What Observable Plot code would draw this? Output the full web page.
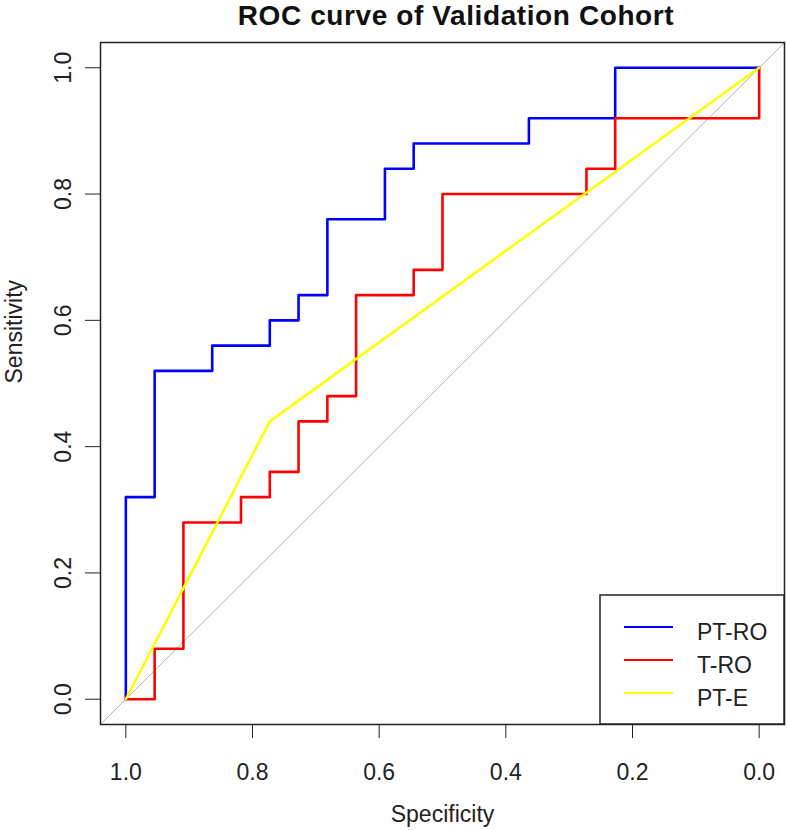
<!DOCTYPE html>
<html>
<head>
<meta charset="utf-8">
<script src="https://cdn.jsdelivr.net/npm/d3@7"></script>
<script src="https://cdn.jsdelivr.net/npm/@observablehq/plot@0.6"></script>
<style>
  body { margin: 0; background: #fff; font-family: "Liberation Sans", Arial, sans-serif; }
  #wrap { position: relative; width: 787px; height: 830px; overflow: hidden; }
  #title { position: relative; width: 787px; height: 34px; }
  #title span { position: absolute; top: 0; left: 456px; transform: translateX(-50%); white-space: nowrap;
    font-size: 28px; line-height: 32px; letter-spacing: 0.6px; font-weight: bold; color: #111; }
  #legend { position: absolute; left: 595px; top: 590px; }
</style>
</head>
<body>
<div id="wrap">
  <div id="title"><span>ROC curve of Validation Cohort</span></div>
  <div id="chart"></div>
</div>
<script>
// ---- data ----
const seriesNames = ["PT-RO", "T-RO", "PT-E"];
const seriesColors = ["#0000ff", "#ff0000", "#ffff00"];

const xTicks = [1.0, 0.8, 0.6, 0.4, 0.2, 0.0];
const yTicks = [0.0, 0.2, 0.4, 0.6, 0.8, 1.0];

// PT-RO (blue) step curve vertices
const ptroSpec = [1, 1, 0.9545, 0.9545, 0.8636, 0.8636, 0.7727, 0.7727, 0.7273, 0.7273, 0.6818, 0.6818, 0.5909, 0.5909, 0.5455, 0.5455, 0.3636, 0.3636, 0.2273, 0.2273, 0];
const ptroSens = [0, 0.32, 0.32, 0.52, 0.52, 0.56, 0.56, 0.60, 0.60, 0.64, 0.64, 0.76, 0.76, 0.84, 0.84, 0.88, 0.88, 0.92, 0.92, 1.0, 1.0];

// T-RO (red) step curve vertices
const troSpec = [1, 0.9545, 0.9545, 0.9091, 0.9091, 0.8182, 0.8182, 0.7727, 0.7727, 0.7273, 0.7273, 0.6818, 0.6818, 0.6364, 0.6364, 0.5455, 0.5455, 0.5, 0.5, 0.2727, 0.2727, 0.2273, 0.2273, 0, 0];
const troSens = [0, 0, 0.08, 0.08, 0.28, 0.28, 0.32, 0.32, 0.36, 0.36, 0.44, 0.44, 0.48, 0.48, 0.64, 0.64, 0.68, 0.68, 0.80, 0.80, 0.84, 0.84, 0.92, 0.92, 1.0];

// PT-E (yellow) curve vertices
const pteSpec = [1, 0.7727, 0];
const pteSens = [0, 0.44, 1];

// chance line sens = 1 - spec, across the padded domain
const pad = 0.04;
const diagSpec = [1 + pad, -pad];
const diagSens = [-pad, 1 + pad];

// ---- build tables ----
const rows = [];
function addSeries(name, spec, sens) {
  spec.forEach((s, i) => rows.push({ series: name, spec: s, sens: sens[i] }));
}
addSeries(seriesNames[0], ptroSpec, ptroSens);
addSeries(seriesNames[1], troSpec, troSens);
addSeries(seriesNames[2], pteSpec, pteSens);
const diag = diagSpec.map((s, i) => ({ spec: s, sens: diagSens[i] }));

const FONT = "Liberation Sans, Arial, sans-serif";

const chart = Plot.plot({
  width: 787,
  height: 796,
  marginTop: 8,
  marginBottom: 106,
  marginLeft: 100,
  marginRight: 3,
  style: { fontFamily: FONT, fontSize: "23px", color: "#222", background: "white" },
  x: { domain: [1 + pad, -pad] },
  y: { domain: [-pad, 1 + pad] },
  color: { domain: seriesNames, range: seriesColors },
  marks: [
    Plot.line(diag, { x: "spec", y: "sens", stroke: "#b4b4b4", strokeWidth: 1 }),
    Plot.line(rows, { x: "spec", y: "sens", z: "series", stroke: "series", strokeWidth: 2.6 }),
    Plot.frame({ stroke: "#222", strokeWidth: 1.5 }),
    Plot.axisX({ ticks: xTicks, tickSize: 14, tickPadding: 25, tickFormat: d3.format(".1f"), fontSize: 23, label: null }),
    Plot.axisY({ ticks: yTicks, tickSize: 15, tickPadding: 15, tickRotate: -90, tickFormat: d3.format(".1f"), fontSize: 23, label: null }),
    Plot.text(["Specificity"], { text: d => d, frameAnchor: "bottom", dy: 97, lineAnchor: "bottom", fontSize: 23, fill: "#222" }),
    Plot.text(["Sensitivity"], { text: d => d, frameAnchor: "left", dx: -79, rotate: -90, lineAnchor: "bottom", fontSize: 23, fill: "#222" })
  ]
});
document.getElementById("chart").appendChild(chart);

// ---- legend (bottom-right box, line swatches) ----
const lg = d3.create("svg").attr("id", "legend").attr("width", 192).attr("height", 140)
  .style("font-family", FONT);
lg.append("rect").attr("x", 5).attr("y", 5).attr("width", 184).attr("height", 129)
  .attr("fill", "white").attr("stroke", "#222").attr("stroke-width", 1.5);
seriesNames.forEach((name, i) => {
  const cy = 37 + i * 33;
  lg.append("line").attr("x1", 29).attr("x2", 78).attr("y1", cy).attr("y2", cy)
    .attr("stroke", seriesColors[i]).attr("stroke-width", 1.8);
  lg.append("text").attr("x", 102).attr("y", cy + 13).attr("font-size", 23).attr("fill", "#222").text(name);
});
document.getElementById("wrap").appendChild(lg.node());
</script>
</body>
</html>
